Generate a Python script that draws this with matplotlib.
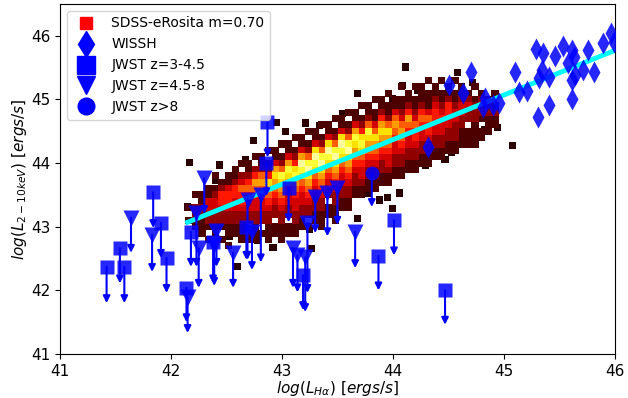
import matplotlib.pyplot as plt
from matplotlib.lines import Line2D

# SDSS-eRosita density cloud, read column by column (0.06 dex apart).
# each string gives density levels (1 = sparse ... 9 = densest, '.' = empty) going down in 0.1 dex rows
cloud_x = [42.16, 42.22, 42.28, 42.34, 42.40, 42.46, 42.52, 42.58, 42.64, 42.70,
           42.76, 42.82, 42.88, 42.94, 43.00, 43.06, 43.12, 43.18, 43.24, 43.30,
           43.36, 43.42, 43.48, 43.54, 43.60, 43.66, 43.72, 43.78, 43.84, 43.90,
           43.96, 44.02, 44.08, 44.14, 44.20, 44.26, 44.32, 44.38, 44.44, 44.50,
           44.56, 44.62, 44.68, 44.74, 44.80, 44.86, 44.92]
cloud_top = [43.3, 43.5, 43.5, 43.6, 43.8, 43.7, 43.8, 43.9, 44.0, 44.0,
             44.1, 44.1, 44.2, 44.2, 44.3, 44.3, 44.4, 44.4, 44.5, 44.5,
             44.6, 44.6, 44.7, 44.7, 44.8, 44.8, 44.9, 44.9, 45.0, 45.0,
             45.1, 45.0, 45.2, 45.1, 45.2, 45.2, 45.3, 45.2, 45.3, 45.2,
             45.3, 45.2, 45.1, 45.2, 45.1, 45.0, 45.1]
cloud_levels = ["1.1", "1.2211", "1122111", "1133221.1", "1.12332211", "12443221.1",
                "1134432211.1", "11244332211", "1.23544322111", "1124543322.11",
                "1.246543322111", "11256543322.1", "1.1247654322111", "11367654322.11",
                "1.12587654322111", "113687643322.11", "1.12478654332211", "113698754332211",
                "1.125897654322.1", "113798754332211", "1.125897654322111", "113798754332.11",
                "1.125897654322111", "113798754332211", "1.12589765432211", "11368765432211",
                "1.1247875433211", "11258765432211", "1.1135765432211", "11246765432211",
                "1.1125765433211", "1135654332211", "1.1123565432211", "1124654332211",
                "1.112354432211", "1112454332211", "1.111354432211", "112344332211",
                "1.11234332211", "11244332211", "1.1123322211", "1123322111",
                "12322.111", "1.12221111", "12221.11", "122111", "1.1211"]

# isolated SDSS-eRosita sources around the cloud
sdss_out_x = [42.17, 42.44, 42.74, 42.67, 42.95, 43.03, 42.40, 42.37, 42.44, 42.15,
              42.53, 42.53, 42.67, 42.78, 42.92, 42.60, 42.98, 43.10, 43.25, 43.27,
              43.21, 43.34, 43.55, 43.64, 43.68, 44.00, 44.09, 44.11, 44.13, 43.77,
              43.88, 43.95, 44.06, 44.00, 43.68, 44.22, 44.29, 44.42, 44.53, 44.47,
              44.58, 44.72, 44.22, 44.76, 44.83, 44.94, 45.08]
sdss_out_y = [44.01, 43.97, 44.36, 44.05, 44.64, 44.49, 43.73, 43.53, 43.54, 43.31,
              43.21, 42.84, 42.84, 42.79, 42.68, 42.37, 42.90, 42.99, 42.95, 42.66,
              44.63, 44.59, 44.78, 44.80, 45.10, 45.02, 45.22, 45.51, 44.94, 43.53,
              43.42, 43.46, 43.53, 43.29, 43.13, 44.00, 43.97, 44.16, 44.17, 44.05,
              45.43, 45.27, 45.14, 44.70, 44.52, 44.56, 44.28]

# relation m=0.70
fit_x = [42.15, 46.0]
fit_y = [43.07, 45.77]

# WISSH quasars
wissh_x = [44.32, 44.51, 44.63, 44.70, 44.81, 44.83, 44.90, 44.96, 45.10, 45.14,
           45.21, 45.31, 45.41, 45.29, 45.35, 45.46, 45.53, 45.61, 45.58, 45.63,
           45.76, 45.89, 45.97, 45.99, 45.32, 45.34, 45.41, 45.61, 45.64, 45.71,
           45.81, 45.61]
wissh_y = [44.25, 45.22, 45.10, 45.43, 44.88, 45.02, 44.91, 44.94, 45.43, 45.11,
           45.14, 44.72, 44.92, 45.79, 45.73, 45.68, 45.84, 45.77, 45.57, 45.66,
           45.77, 45.88, 46.04, 45.90, 45.33, 45.46, 45.35, 45.30, 45.38, 45.46,
           45.43, 45.00]

# JWST upper limits: marker value and where the arrow ends
jwst1_x = [41.42, 41.54, 41.58, 41.84, 41.91, 41.96, 42.14, 42.18, 42.38, 42.68,
           43.06, 43.19, 44.01, 43.87, 44.47, 42.87, 42.86]
jwst1_y = [42.37, 42.66, 42.37, 43.54, 43.06, 42.51, 42.04, 42.92, 42.76, 42.99,
           43.61, 42.24, 43.10, 42.54, 42.00, 44.64, 44.00]
jwst1_lo = [41.80, 42.11, 41.80, 42.98, 42.51, 41.96, 41.50, 42.37, 42.11, 42.48,
            43.07, 41.69, 42.55, 42.00, 41.46, 44.09, 43.48]

jwst2_x = [41.64, 41.83, 42.30, 42.23, 42.25, 42.41, 42.39, 42.56, 42.15, 42.69,
           42.81, 42.73, 43.10, 43.14, 43.21, 43.23, 43.30, 43.41, 43.50, 43.66]
jwst2_y = [43.14, 42.87, 43.76, 43.21, 42.66, 42.93, 42.71, 42.59, 41.89, 43.42,
           43.50, 42.92, 42.66, 42.55, 42.52, 43.06, 43.46, 43.53, 43.61, 42.92]
jwst2_lo = [42.59, 42.29, 43.20, 42.37, 42.04, 42.37, 42.07, 42.04, 41.33, 42.48,
            42.44, 42.32, 42.04, 41.97, 41.66, 41.96, 42.90, 42.85, 43.03, 42.35]

jwst3_x = [43.81]
jwst3_y = [43.84]
jwst3_lo = [43.31]

blue = '#0000ff'

fig = plt.figure(figsize=(6.28, 3.98), dpi=100)
ax = fig.add_axes([0.0955, 0.1106, 0.8835, 0.8794])

# cloud cells, densest drawn last
pts = []
for x, top, lev in zip(cloud_x, cloud_top, cloud_levels):
    for k, ch in enumerate(lev):
        if ch != '.':
            pts.append((int(ch) / 10, x, top - 0.1 * k))
for x, y in zip(sdss_out_x, sdss_out_y):
    pts.append((0.05, x, y))
pts.sort()
ax.scatter([p[1] for p in pts], [p[2] for p in pts], c=[p[0] for p in pts],
           cmap='hot', vmin=0, vmax=1, marker='s', s=26, linewidths=0, zorder=1)

ax.plot(fit_x, fit_y, color='cyan', lw=3.5, zorder=2)

ax.plot(wissh_x, wissh_y, 'd', color=blue, ms=11, alpha=0.85, mec='none', zorder=3)

for xs, ys, lo, m, ms in [(jwst1_x, jwst1_y, jwst1_lo, 's', 10),
                          (jwst2_x, jwst2_y, jwst2_lo, 'v', 11),
                          (jwst3_x, jwst3_y, jwst3_lo, 'o', 10)]:
    for x, y, l in zip(xs, ys, lo):
        ax.annotate('', xy=(x, l), xytext=(x, y),
                    arrowprops=dict(arrowstyle='-|>', color=blue, lw=1.5,
                                    mutation_scale=10, shrinkA=0, shrinkB=0),
                    zorder=4)
    ax.plot(xs, ys, m, color=blue, ms=ms, alpha=0.85, mec='none', zorder=4)

ax.set_xlim(41, 46)
ax.set_ylim(41, 46.5)
ax.set_xticks([41, 42, 43, 44, 45, 46])
ax.set_yticks([41, 42, 43, 44, 45, 46])
ax.tick_params(labelsize=11)
ax.set_xlabel(r'$log(L_{H\alpha})\ [ergs/s]$', fontsize=11, labelpad=0)
ax.set_ylabel(r'$log(L_{2-10keV})\ [ergs/s]$', fontsize=11, labelpad=1)

handles = [Line2D([], [], ls='', marker='s', color='red', ms=8),
           Line2D([], [], ls='', marker='d', color=blue, ms=13),
           Line2D([], [], ls='', marker='s', color=blue, ms=13),
           Line2D([], [], ls='', marker='v', color=blue, ms=13),
           Line2D([], [], ls='', marker='o', color=blue, ms=12)]
labels = ['SDSS-eRosita m=0.70', 'WISSH', 'JWST z=3-4.5', 'JWST z=4.5-8', 'JWST z>8']
ax.legend(handles, labels, loc='upper left', fontsize=10)

fig.savefig('out.png', dpi=100)
